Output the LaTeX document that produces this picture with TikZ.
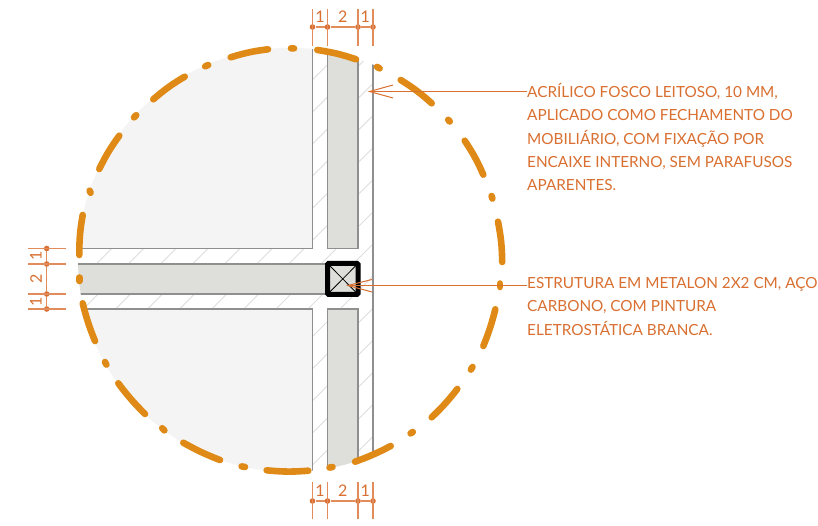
\documentclass[tikz,border=0pt]{standalone}
\usepackage{fontspec}
\setmainfont{Lato}
\definecolor{dimc}{HTML}{D96F30}
\definecolor{dashc}{HTML}{DF8A17}
\definecolor{panel}{HTML}{DEDFDA}
\definecolor{quad}{HTML}{F4F4F4}
\definecolor{wall}{HTML}{8F8F8F}
\definecolor{hatchc}{HTML}{DEDEDE}
\tikzset{
  dimline/.style={dimc!80!white,line width=1.1pt},
  dimdot/.style={circle,fill=dimc,inner sep=0pt,minimum size=5.6pt},
  dimtxt/.style={text=dimc,font=\fontsize{16}{16}\selectfont,inner sep=0pt},
  walline/.style={wall,line width=1.4pt},
  rim/.style={dashc,line width=6.6pt,line cap=round},
  leader/.style={dimc,line width=1pt},
  note/.style={text=dimc,font=\fontsize{15.3}{23.25}\selectfont,inner sep=0pt,anchor=north west,align=left}
}
\begin{document}
\begin{tikzpicture}[x=1pt,y=-1pt]
\useasboundingbox (0,0) rectangle (818,526);
\fill[white] (0,0) rectangle (818,526);
\begin{scope}
  \clip (290,259.8) circle (212pt);
  \begin{scope}
    \clip (60,0) rectangle (373,526);
    \foreach \k in {0,...,22}{
      \pgfmathsetmacro{\c}{296+32.1*\k}
      \draw[hatchc,line width=0.9pt] (\c,0) -- (0,\c);
    }
  \end{scope}
  \fill[quad] (60,30) rectangle (312.5,248.5);
  \fill[quad] (60,309) rectangle (312.5,490);
  \fill[panel] (60,264) rectangle (342,294);
  \fill[panel] (327.5,30) rectangle (358,248.5);
  \fill[panel] (327.5,309) rectangle (358,490);
  \draw[walline] (60,248.5) -- (312.5,248.5) -- (312.5,30);
  \draw[walline] (60,309) -- (312.5,309) -- (312.5,490);
  \draw[walline] (60,264) -- (327.5,264);
  \draw[walline] (60,294) -- (327.5,294);
  \draw[walline] (327.5,30) -- (327.5,248.5) -- (358,248.5) -- (358,30);
  \draw[walline] (327.5,490) -- (327.5,309) -- (358,309) -- (358,490);
  \draw[walline] (373,30) -- (373,490);
\end{scope}
% steel tube
\fill[panel] (327.5,264) rectangle (358,294);
\draw[black,line width=5pt,rounded corners=1pt] (327.5,263.5) rectangle (358,294.3);
\draw[black,line width=0.8pt] (330,266) -- (355.5,291.8) (355.5,266) -- (330,291.8);
% rim dashes
\draw[rim] (79.3,255) to[bend left=5] (82.7,215);
\draw[rim] (90.6,192.8) -- (89.6,190.6);
\draw[rim] (99.3,169) to[bend left=5] (119.3,135.7);
\draw[rim] (134,117.4) -- (136.2,115.2);
\draw[rim] (153.3,99.3) to[bend left=5] (184.7,76.7);
\draw[rim] (205.2,66.4) -- (208.2,65);
\draw[rim] (230.7,57.3) to[bend left=5] (268,49.3);
\draw[rim] (291,48.3) -- (294,48.4);
\draw[rim] (317.3,50) to[bend left=5] (356,59.3);
\draw[rim] (377,66.9) -- (379.6,68.4);
\draw[rim] (400.7,80) to[bend left=5] (431.7,103.3);
\draw[rim] (448.2,119.8) -- (449.8,121.5);
\draw[rim] (464.7,140.7) to[bend left=5] (483.3,174.7);
\draw[rim] (491.6,196) -- (492.4,198.6);
\draw[rim] (498,221.7) to[bend left=5] (502.2,262);
\draw[rim] (500,283.5) -- (500,287);
\draw[rim] (495.3,309.3) to[bend left=4] (483.3,346);
\draw[rim] (472.5,367) -- (470.9,369.6);
\draw[rim] (457.3,389) to[bend left=4] (431.7,417.3);
\draw[rim] (412.8,432) -- (410.6,433.4);
\draw[rim] (390.7,446) to[bend left=4] (355,461.7);
\draw[rim] (332.5,467) -- (329.5,467.6);
\draw[rim] (308.3,470.7) to[bend left=5] (266.7,470.3);
\draw[rim] (245,467) -- (241.6,466.4);
\draw[rim] (220,460) to[bend left=4] (183.3,442.7);
\draw[rim] (164.4,430.4) -- (162.2,428.2);
\draw[rim] (145,414) to[bend left=4] (118.3,383.3);
\draw[rim] (106.4,364.6) -- (105,362);
\draw[rim] (95,341) to[bend left=4] (82.7,303.3);
\draw[rim] (79.3,277.5) -- (79.3,281);
% dimensions
\foreach \n/\x in {a/312.5,b/327.5,c/358,d/373}{
  \node[dimdot] (t\n) at (\x,27) {};
  \coordinate (tu\n) at (\x,9);
  \coordinate (tl\n) at (\x,46);
  \draw[dimline] (tu\n) -- (tl\n);
  \node[dimdot] (b\n) at (\x,501) {};
  \coordinate (bu\n) at (\x,482);
  \coordinate (bl\n) at (\x,519);
  \draw[dimline] (bu\n) -- (bl\n);
}
\draw[dimline] (ta) -- (tb) -- (tc) -- (td);
\draw[dimline] (ba) -- (bb) -- (bc) -- (bd);
\foreach \n/\y in {a/248.5,b/264,c/294,d/309}{
  \node[dimdot] (l\n) at (46.7,\y) {};
  \coordinate (ll\n) at (28,\y);
  \coordinate (lr\n) at (65.5,\y);
  \draw[dimline] (ll\n) -- (lr\n);
}
\draw[dimline] (la) -- (lb) -- (lc) -- (ld);
\node[dimtxt] (t1) at (320,16.5) {1};
\node[dimtxt] (t2) at (342.7,16.5) {2};
\node[dimtxt] (t3) at (365.3,16.5) {1};
\node[dimtxt] (b1) at (320,490.5) {1};
\node[dimtxt] (b2) at (342.7,490.5) {2};
\node[dimtxt] (b3) at (365.3,490.5) {1};
\node[dimtxt,rotate=90] (s1) at (36,256) {1};
\node[dimtxt,rotate=90] (s2) at (36,278.7) {2};
\node[dimtxt,rotate=90] (s3) at (36,301.5) {1};
% notes
\node[note] (n1) at (527,83.3) {ACRÍLICO FOSCO LEITOSO, 10 MM,\\APLICADO COMO FECHAMENTO DO\\MOBILIÁRIO, COM FIXAÇÃO POR\\ENCAIXE INTERNO, SEM PARAFUSOS\\APARENTES.};
\node[note] (n2) at (527,277.3) {ESTRUTURA EM METALON 2X2 CM, AÇO\\CARBONO, COM PINTURA\\ELETROSTÁTICA BRANCA.};
\coordinate (n1s) at (527,91.5);
\coordinate (n2s) at (527,285.5);
\coordinate (tip1) at (369.5,91.5);
\coordinate (tip2) at (348,285.5);
\draw[leader] (n1s) -- (tip1);
\draw[leader] (393,85) -- (tip1) -- (393,98);
\draw[leader] (n2s) -- (tip2);
\draw[leader] (372,279.5) -- (tip2) -- (372,292);
\end{tikzpicture}
\end{document}
